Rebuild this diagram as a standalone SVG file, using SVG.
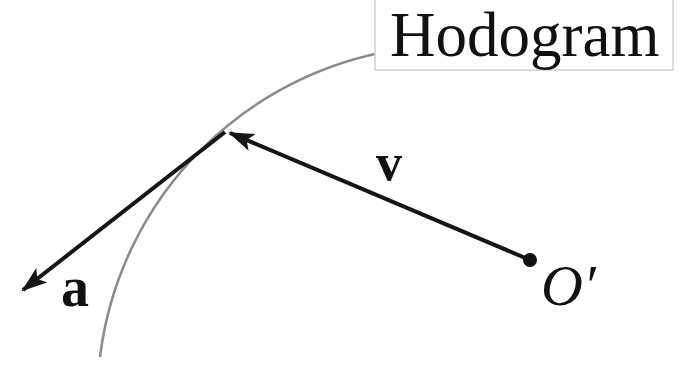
<svg xmlns="http://www.w3.org/2000/svg" width="694" height="365" viewBox="0 0 694 365">
<style>
.lbl{font-family:"Liberation Serif","Times New Roman",serif;fill:#111}
.vec{stroke:#151515;stroke-width:4;fill:none}
</style>
<defs>
<marker id="ah" viewBox="0 0 26 18" refX="24" refY="9" markerWidth="26" markerHeight="18" markerUnits="userSpaceOnUse" orient="auto">
<path d="M0,0 L26,9 L0,18 L6,9 Z" fill="#151515"/>
</marker>
</defs>
<rect width="694" height="365" fill="#fff"/>
<g id="hodograph-curve">
<path d="M100,357 A355,355 0 0 1 410,48" fill="none" stroke="#8a8a8a" stroke-width="2.5"/>
</g>
<g id="hodogram-label">
<rect x="375" y="-2" width="298" height="72" fill="#fff" stroke="#d0d0d0" stroke-width="1.5"/>
<text class="lbl" x="390" y="56" font-size="63">Hodogram</text>
</g>
<g id="connectors">
<line class="vec" x1="225" y1="132" x2="23" y2="290" marker-end="url(#ah)"/>
<line class="vec" x1="530" y1="260" x2="230" y2="133" marker-end="url(#ah)"/>
</g>
<g id="origin">
<circle cx="530" cy="260" r="7" fill="#111"/>
<text class="lbl" x="541" y="305" font-size="58" font-style="italic">O′</text>
</g>
<g id="label-a">
<text class="lbl" x="61" y="306" font-size="56" font-weight="bold">a</text>
</g>
<g id="label-v">
<text class="lbl" x="376" y="180" font-size="52" font-weight="bold">v</text>
</g>
</svg>
